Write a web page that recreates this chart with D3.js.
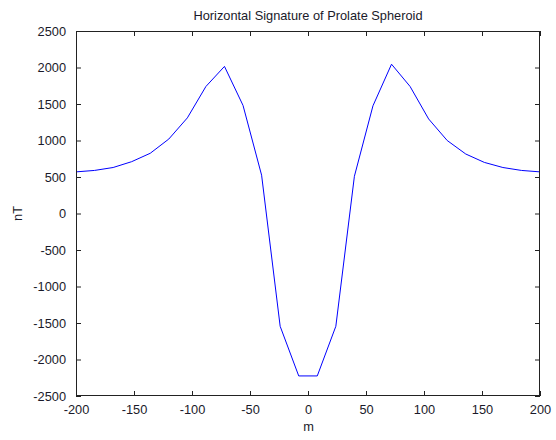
<!DOCTYPE html>
<html>
<head>
<meta charset="utf-8">
<script src="https://cdn.jsdelivr.net/npm/d3@7/dist/d3.min.js"></script>
<style>
  html, body { margin: 0; padding: 0; background: #fff; }
  svg { display: block; font-family: "Liberation Sans", Arial, sans-serif; }
</style>
</head>
<body>
<svg id="chart" width="556" height="440"></svg>
<script>
// Data
const distance = [-200, -184, -168, -152, -136, -120, -104, -88, -72, -56, -40, -24, -8,
                   8, 24, 40, 56, 72, 88, 104, 120, 136, 152, 168, 184, 200];
const field = [570, 590, 630, 710, 825, 1020, 1310, 1740, 2015, 1480, 525, -1545, -2225,
               -2225, -1545, 510, 1475, 2045, 1740, 1295, 1000, 815, 700, 630, 590, 570];
const xTicks = [-200, -150, -100, -50, 0, 50, 100, 150, 200];
const yTicks = [-2500, -2000, -1500, -1000, -500, 0, 500, 1000, 1500, 2000, 2500];
const titleText = "Horizontal Signature of Prolate Spheroid";
const xLabel = "m";
const yLabel = "nT";

const svg = d3.select("#chart");
const mLeft = 76, mRight = 540, mTop = 31, mBottom = 396;

const x = d3.scaleLinear().domain([-200, 200]).range([mLeft, mRight]);
const y = d3.scaleLinear().domain([-2500, 2500]).range([mBottom, mTop]);

const fontSize = 12.8;
const textColor = "#1a1a2a";
const fmt = d => String(d);

// plot background
svg.append("rect").attr("x", mLeft).attr("y", mTop)
  .attr("width", mRight - mLeft).attr("height", mBottom - mTop).attr("fill", "#fff");

// line
svg.append("path")
  .datum(distance.map((d, i) => [d, field[i]]))
  .attr("fill", "none")
  .attr("stroke", "#0000ff")
  .attr("stroke-width", 1)
  .attr("d", d3.line().x(d => x(d[0])).y(d => y(d[1])));

function styleAxis(g) {
  g.select(".domain").remove();
  g.selectAll(".tick line").attr("stroke", "#222").attr("stroke-width", 1);
  g.selectAll(".tick text").attr("fill", textColor)
    .attr("font-size", fontSize).attr("font-family", "'Liberation Sans', Arial, sans-serif");
}

// bottom axis (inward ticks)
const gx = svg.append("g").attr("transform", `translate(0,${mBottom})`)
  .call(d3.axisBottom(x).tickValues(xTicks).tickFormat(fmt).tickSizeInner(-5).tickSizeOuter(0).tickPadding(9));
styleAxis(gx);

// top axis ticks
const gxt = svg.append("g").attr("transform", `translate(0,${mTop})`)
  .call(d3.axisTop(x).tickValues(xTicks).tickFormat("").tickSizeInner(-5).tickSizeOuter(0));
styleAxis(gxt);

// left axis
const gy = svg.append("g").attr("transform", `translate(${mLeft},0)`)
  .call(d3.axisLeft(y).tickValues(yTicks).tickFormat(fmt).tickSizeInner(-5).tickSizeOuter(0).tickPadding(10));
styleAxis(gy);

// right axis ticks
const gyr = svg.append("g").attr("transform", `translate(${mRight},0)`)
  .call(d3.axisRight(y).tickValues(yTicks).tickFormat("").tickSizeInner(-5).tickSizeOuter(0));
styleAxis(gyr);

// box
svg.append("rect").attr("x", mLeft + 0.5).attr("y", mTop + 0.5)
  .attr("width", mRight - mLeft - 1).attr("height", mBottom - mTop - 1)
  .attr("fill", "none").attr("stroke", "#222").attr("stroke-width", 1);

// title
svg.append("text").attr("x", (mLeft + mRight) / 2).attr("y", 20)
  .attr("text-anchor", "middle").attr("font-size", fontSize).attr("fill", textColor)
  .text(titleText);

// x label
svg.append("text").attr("x", (mLeft + mRight) / 2 + 0.5).attr("y", 431)
  .attr("text-anchor", "middle").attr("font-size", fontSize).attr("fill", textColor)
  .text(xLabel);

// y label
svg.append("text")
  .attr("transform", `translate(22,${(mTop + mBottom) / 2}) rotate(-90)`)
  .attr("text-anchor", "middle").attr("font-size", fontSize).attr("fill", textColor)
  .text(yLabel);
</script>
</body>
</html>
